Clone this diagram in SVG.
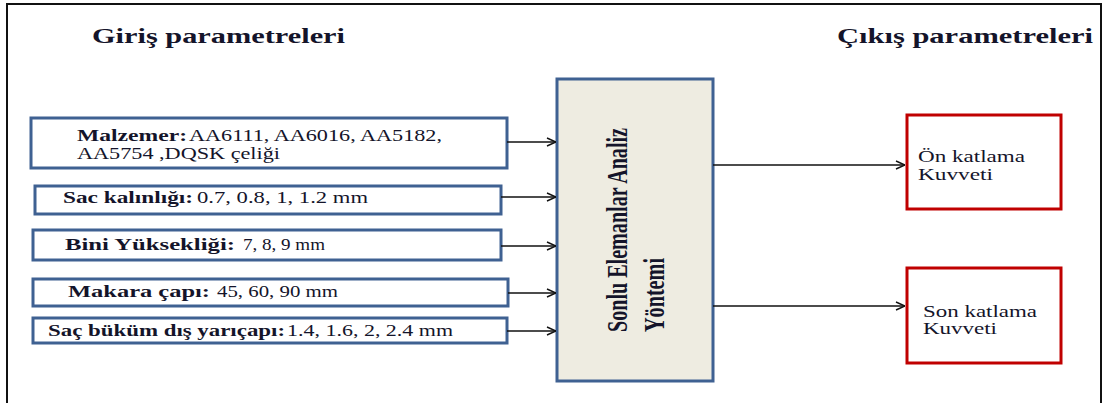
<svg xmlns="http://www.w3.org/2000/svg" width="1105" height="403" viewBox="0 0 1105 403">
<style>
  .t { font-family: "Liberation Serif", "Times New Roman", serif; fill: #14142a; }
  .b { font-weight: bold; }
  .title { font-size: 22px; font-weight: bold; }
  .in { font-size: 16px; }
  .out { font-size: 16px; }
  .inbox { fill: #ffffff; stroke: #3F6192; stroke-width: 3; }
  .outbox { fill: #ffffff; stroke: #C00000; stroke-width: 3; }
  .core { fill: #EEECE1; stroke: #3F6192; stroke-width: 3; }
  .conn line { stroke: #111111; stroke-width: 1.5; fill: none; }
</style>
<defs>
  <marker id="arr" viewBox="0 0 10 10" refX="10" refY="5" markerWidth="10" markerHeight="10" markerUnits="userSpaceOnUse" orient="auto">
    <path d="M1,1 L10,5 L1,9" fill="none" stroke="#111111" stroke-width="1.5"/>
  </marker>
</defs>
<rect width="1105" height="403" fill="#ffffff"/>
<path d="M7,403 V4 H1101 V403" fill="none" stroke="#111111" stroke-width="2"/>

<g id="title-in">
  <text class="t title" x="92" y="43" textLength="253" lengthAdjust="spacingAndGlyphs">Giriş parametreleri</text>
</g>
<g id="title-out">
  <text class="t title" x="837" y="43" textLength="256" lengthAdjust="spacingAndGlyphs">Çıkış parametreleri</text>
</g>

<g id="in-malzeme">
  <rect class="inbox" x="31" y="118" width="476" height="50"/>
  <text class="t in b" x="77" y="141" textLength="110" lengthAdjust="spacingAndGlyphs">Malzemer:</text>
  <text class="t in" x="189" y="141" textLength="253" lengthAdjust="spacingAndGlyphs">AA6111, AA6016, AA5182,</text>
  <text class="t in" x="77" y="159" textLength="203" lengthAdjust="spacingAndGlyphs">AA5754 ,DQSK çeliği</text>
</g>
<g id="in-kalinlik">
  <rect class="inbox" x="35" y="186" width="466" height="28"/>
  <text class="t in b" x="63" y="203" textLength="130" lengthAdjust="spacingAndGlyphs">Sac kalınlığı:</text>
  <text class="t in" x="197" y="203" textLength="171" lengthAdjust="spacingAndGlyphs">0.7, 0.8, 1, 1.2 mm</text>
</g>
<g id="in-bini">
  <rect class="inbox" x="33" y="230" width="468" height="30"/>
  <text class="t in b" x="65" y="250" textLength="170" lengthAdjust="spacingAndGlyphs">Bini Yüksekliği:</text>
  <text class="t in" x="243" y="250" textLength="82" lengthAdjust="spacingAndGlyphs">7, 8, 9 mm</text>
</g>
<g id="in-makara">
  <rect class="inbox" x="33" y="279" width="475" height="27"/>
  <text class="t in b" x="68" y="297" textLength="142" lengthAdjust="spacingAndGlyphs">Makara çapı:</text>
  <text class="t in" x="217" y="297" textLength="121" lengthAdjust="spacingAndGlyphs">45, 60, 90 mm</text>
</g>
<g id="in-bukum">
  <rect class="inbox" x="33" y="318" width="474" height="25"/>
  <text class="t in b" x="48" y="336" textLength="237" lengthAdjust="spacingAndGlyphs">Saç büküm dış yarıçapı:</text>
  <text class="t in" x="287" y="336" textLength="166" lengthAdjust="spacingAndGlyphs">1.4, 1.6, 2, 2.4 mm</text>
</g>

<g id="core">
  <rect class="core" x="557" y="79" width="156" height="302"/>
  <text class="t b" font-size="21" transform="translate(627,332) scale(1.37,1) rotate(-90)" x="0" y="0" textLength="204" lengthAdjust="spacingAndGlyphs">Sonlu Elemanlar Analiz</text>
  <text class="t b" font-size="21" transform="translate(664,332) scale(1.37,1) rotate(-90)" x="0" y="0" textLength="74" lengthAdjust="spacingAndGlyphs">Yöntemi</text>
</g>

<g id="out-on">
  <rect class="outbox" x="907" y="115" width="154" height="94"/>
  <text class="t out" x="918" y="162" textLength="107" lengthAdjust="spacingAndGlyphs">Ön katlama</text>
  <text class="t out" x="918" y="180" textLength="75" lengthAdjust="spacingAndGlyphs">Kuvveti</text>
</g>
<g id="out-son">
  <rect class="outbox" x="907" y="268" width="154" height="95"/>
  <text class="t out" x="923" y="317" textLength="114" lengthAdjust="spacingAndGlyphs">Son katlama</text>
  <text class="t out" x="923" y="334" textLength="74" lengthAdjust="spacingAndGlyphs">Kuvveti</text>
</g>

<g id="connectors" class="conn">
  <line x1="507" y1="142" x2="556" y2="142" marker-end="url(#arr)"/>
  <line x1="501" y1="197" x2="556" y2="197" marker-end="url(#arr)"/>
  <line x1="501" y1="246" x2="556" y2="246" marker-end="url(#arr)"/>
  <line x1="508" y1="293" x2="556" y2="293" marker-end="url(#arr)"/>
  <line x1="507" y1="331" x2="556" y2="331" marker-end="url(#arr)"/>
  <line x1="713" y1="165" x2="905" y2="165" marker-end="url(#arr)"/>
  <line x1="713" y1="306" x2="905" y2="306" marker-end="url(#arr)"/>
</g>
</svg>
